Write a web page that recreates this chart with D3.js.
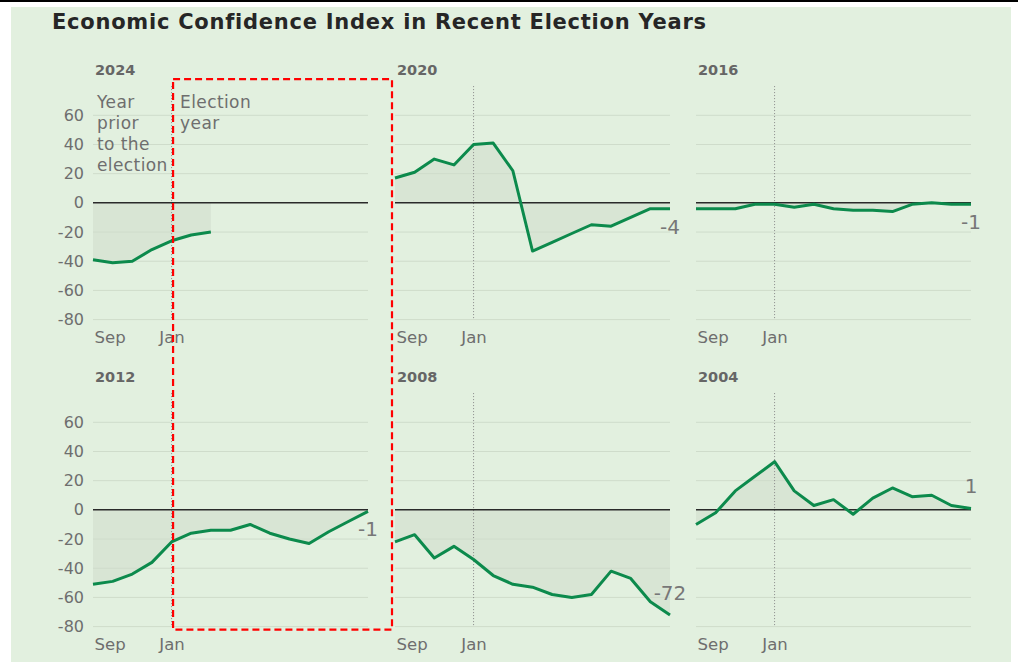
<!DOCTYPE html>
<html>
<head>
<meta charset="utf-8">
<script src="https://cdn.jsdelivr.net/npm/d3@7"></script>
<style>
  html, body { margin: 0; padding: 0; background: #ffffff; }
  svg { display: block; }
  text { font-family: "DejaVu Sans", "Noto Sans", sans-serif; }
</style>
</head>
<body>
<svg id="chart" width="1018" height="666"></svg>
<script>
// ---------- data ----------
const titleText = "Economic Confidence Index in Recent Election Years";
const panelYears = ["2024", "2020", "2016", "2012", "2008", "2004"];
const months = ["Sep", "Oct", "Nov", "Dec", "Jan", "Feb", "Mar", "Apr", "May", "Jun", "Jul", "Aug", "Sep2", "Oct2", "Nov2"];
const xTickLabels = ["Sep", "Jan"];
const yTicks = [60, 40, 20, 0, -20, -40, -60, -80];

const values2024 = [-39, -41, -40, -32, -26, -22, -20];
const values2020 = [17, 21, 30, 26, 40, 41, 22, -33, -27, -21, -15, -16, -10, -4, -4];
const values2016 = [-4, -4, -4, -1, -1, -3, -1, -4, -5, -5, -6, -1, 0, -1, -1];
const values2012 = [-51, -49, -44, -36, -22, -16, -14, -14, -10, -16, -20, -23, -15, -8, -1];
const values2008 = [-22, -17, -33, -25, -34, -45, -51, -53, -58, -60, -58, -42, -47, -63, -72];
const values2004 = [-10, -2, 13, 23, 33, 13, 3, 7, -3, 8, 15, 9, 10, 3, 1];
const seriesValues = [values2024, values2020, values2016, values2012, values2008, values2004];
const endLabels = ["", "-4", "-1", "-1", "-72", "1"];

const annotPrior = ["Year", "prior", "to the", "election"];
const annotElection = ["Election", "year"];

// ---------- layout ----------
const svg = d3.select("#chart");
const colX = [93, 395, 696];
const panelW = 275;
const rowTop = [115.3, 422.3];   // y of 60
const rowBottom = [319.6, 626.6]; // y of -80

const green = "#0c8a4c";
const fillCol = "#d8e5d4";
const gridCol = "#cfdccb";
const grey = "#6e6e6e";
const FONT = "'DejaVu Sans', 'Noto Sans', sans-serif";

svg.append("rect").attr("x", 0).attr("y", 0).attr("width", 1018).attr("height", 2).attr("fill", "#000");
svg.append("rect").attr("x", 11).attr("y", 7).attr("width", 1000).attr("height", 655).attr("fill", "#e2f0df");

svg.append("text")
  .attr("x", 52).attr("y", 29)
  .attr("font-size", 21).attr("font-weight", 700).attr("fill", "#262626")
  .attr("letter-spacing", 0.75)
  .text(titleText);

const yScales = [];
const xScales = [];

panelYears.forEach((yr, i) => {
  const col = i % 3, row = Math.floor(i / 3);
  const x0 = colX[col];
  const x = d3.scalePoint().domain(months).range([x0, x0 + panelW]);
  const y = d3.scaleLinear().domain([-80, 60]).range([rowBottom[row], rowTop[row]]);
  xScales.push(x); yScales.push(y);
  const g = svg.append("g");
  const vals = seriesValues[i];
  const data = vals.map((v, k) => ({ m: months[k], v }));

  // area fill
  g.append("path").datum(data)
    .attr("fill", fillCol)
    .attr("d", d3.area().x(d => x(d.m)).y0(y(0)).y1(d => y(d.v)));

  // grid lines
  g.selectAll("line.grid").data(yTicks.filter(t => t !== 0)).join("line")
    .attr("x1", x0).attr("x2", x0 + panelW)
    .attr("y1", d => y(d)).attr("y2", d => y(d))
    .attr("stroke", gridCol).attr("stroke-width", 1);

  // Jan dotted line
  g.append("line")
    .attr("x1", x("Jan")).attr("x2", x("Jan"))
    .attr("y1", y(80)).attr("y2", y(-80))
    .attr("stroke", "#888").attr("stroke-width", 1).attr("stroke-dasharray", "1,2");

  // zero line
  g.append("line")
    .attr("x1", x0).attr("x2", x0 + panelW)
    .attr("y1", y(0)).attr("y2", y(0))
    .attr("stroke", "#2a2a2a").attr("stroke-width", 1.5);

  // series line
  g.append("path").datum(data)
    .attr("fill", "none").attr("stroke", green).attr("stroke-width", 3)
    .attr("stroke-linejoin", "round")
    .attr("d", d3.line().x(d => x(d.m)).y(d => y(d.v)));

  // y axis (left column only)
  if (col === 0) {
    const ax = g.append("g").attr("transform", `translate(${x0 - 9},0)`)
      .call(d3.axisLeft(y).tickValues(yTicks).tickSize(0).tickPadding(0).tickFormat(d => String(d)));
    ax.select(".domain").remove();
    ax.selectAll("text").attr("font-size", 16).attr("fill", grey)
      .style("font-family", FONT);
  }

  // x axis labels
  const xa = g.append("g").attr("transform", `translate(0,${y(-80) + 23})`)
    .call(d3.axisBottom(x).tickValues(xTickLabels).tickSize(0).tickPadding(0));
  xa.select(".domain").remove();
  xa.selectAll("text").attr("font-size", 16.5).attr("fill", grey).attr("dy", 0)
    .style("font-family", FONT)
    .attr("text-anchor", d => d === "Sep" ? "start" : "middle")
    .attr("x", d => d === "Sep" ? 1 : 0);

  // panel title
  g.append("text")
    .attr("x", x0 + 2).attr("y", y(60) - 40)
    .attr("font-size", 14.5).attr("font-weight", 700).attr("fill", "#666")
    .text(yr);

  // end label
  if (endLabels[i]) {
    const last = vals[vals.length - 1];
    const lx = x(months[vals.length - 1]);
    const above = last > 0 || last < -60;
    g.append("text")
      .attr("x", lx).attr("y", y(last) + (above ? -15 : 25))
      .attr("text-anchor", "middle")
      .attr("font-size", 20).attr("fill", "#777")
      .text(endLabels[i]);
  }
});

// annotations in 2024 panel
const y0s = yScales[0];
annotPrior.forEach((t, k) => {
  svg.append("text").attr("x", colX[0] + 4).attr("y", y0s(60) - 7 + k * 21)
    .attr("font-size", 17).attr("letter-spacing", 0.4).attr("fill", grey).text(t);
});
annotElection.forEach((t, k) => {
  svg.append("text").attr("x", xScales[0]("Jan") + 8.5).attr("y", y0s(60) - 7 + k * 21)
    .attr("font-size", 17).attr("letter-spacing", 0.4).attr("fill", grey).text(t);
});

// red dashed box
const bx0 = xScales[0]("Jan") + 1.5;
const bx1 = colX[1] - 3;
const by0 = y0s(80) - 7;
const by1 = yScales[3](-80) + 3;
svg.append("rect")
  .attr("x", bx0).attr("y", by0).attr("width", bx1 - bx0).attr("height", by1 - by0)
  .attr("fill", "none").attr("stroke", "#ff0000").attr("stroke-width", 2.2)
  .attr("stroke-dasharray", "7,4");
</script>
</body>
</html>
